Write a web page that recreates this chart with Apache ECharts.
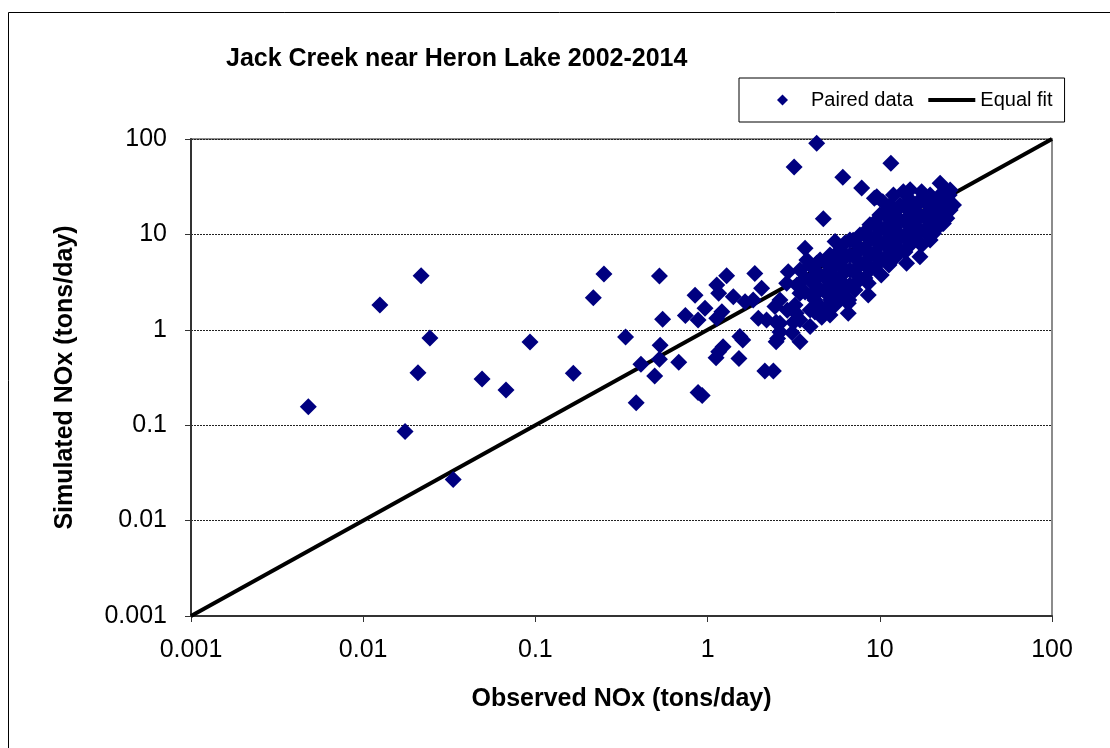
<!DOCTYPE html>
<html>
<head>
<meta charset="utf-8">
<script src="https://cdn.jsdelivr.net/npm/echarts@6/dist/echarts.min.js"></script>
<style>html,body{margin:0;padding:0;background:#fff}#c{width:1110px;height:748px}</style>
</head>
<body>
<div id="c"></div>
<script>
// Observed NOx (tons/day)
const observed = [
  0.0048,0.0125,0.0217,0.0244,0.0208,0.0175,0.0333,0.049,0.0675,0.093,
  0.166,0.217,0.25,0.334,0.385,0.41,0.493,0.525,0.53,0.525,
  0.548,0.68,0.743,0.846,0.88,0.88,0.93,0.966,1.13,1.16,
  1.29,1.21,1.13,1.41,1.12,1.23,1.16,1.54,1.6,1.52,
  1.65,1.88,1.97,2.15,2.41,
  2.06,1.84,2.2,2.63,2.55,2.5,3.44,2.94,2.88,2.63,
  2.46,3.68,3.77,3.44,3.27,3.44,3.94,4.3,5.5,6.0,
  7.0,6.56,6.56,8.57,8.57,14.3,17.1,20.5,23.4,2.63,
  2.5,3.15,2.9,3.1,
  4.3,3.18,11.6,6.1,7.85,9.6,10.4,4.7,12,13.7,
  17.5,22.4,24.5,26.8,23,9.3,15,25.3,24.5,
  3.44,3.3,3.22,3.94,3.94,4.0,3.94,4.5,4.5,4.5,
  4.4,4.6,5.14,5.14,5.1,5.2,5.14,5.87,5.87,5.87,
  5.9,6.71,6.71,6.7,6.71,6.6,7.67,7.67,7.67,7.6,
  8.76,8.76,8.8,8.76,10,10,10,10,10.2,11.5,
  11.5,11.5,11.5,11.3,13.1,13.1,13.1,13.1,15,15,
  15,15,17.1,17.1,17.1,17.5,19.6,19.6,19.6,19.6,
  22.4,22.4,25.6,25.6,
  3.68,3.68,4.2,4.2,4.2,4.2,4.81,4.81,4.81,4.81,
  5.5,5.5,5.5,5.5,6.28,6.28,6.28,6.28,7.17,7.17,
  7.17,7.17,8.2,8.2,8.2,8.2,9.37,9.37,9.37,9.37,
  10.7,10.7,10.7,10.7,12.2,12.2,12.2,12.2,14,14,
  14,14,16,16,16,18.3,18.3,18.3,20.9,20.9,
  20.9,23.9,23.9
];
// Simulated NOx (tons/day)
const simulated = [
  0.156,1.82,3.69,0.82,0.355,0.086,0.027,0.305,0.234,0.745,
  0.35,2.17,3.85,0.84,0.172,0.435,0.328,3.66,0.69,0.49,
  1.29,0.456,1.41,2.3,1.27,0.22,0.205,1.68,2.95,2.42,
  3.69,1.55,1.32,2.22,0.51,0.665,0.59,0.85,0.78,0.5,
  1.97,3.9,1.32,0.37,0.37,
  2.72,2.05,1.27,1.17,0.81,0.75,0.75,4.06,3.07,2.05,
  1.75,7.15,5.4,2.42,1.49,1.27,1.08,4.98,8.4,6.08,
  8.7,1.9,1.49,2.32,3.07,4.98,5.84,10.3,13,0.95,
  1.2,1.2,1.6,0.93,
  90,51,55.6,39.7,30.6,24.8,22,14.6,25.9,28,
  28,34.4,28,20.3,13,23.9,29.3,25.9,14.8,
  4.24,2.95,1.82,4.78,3.33,2.32,1.61,5.39,3.75,2.61,
  1.82,1.35,6.08,4.24,2.95,2.05,1.43,6.86,4.78,3.33,
  2.32,8.73,6.08,4.24,2.95,2.05,9.86,6.86,4.78,3.33,
  12.6,8.73,6.08,4.24,16,11.1,7.74,5.39,3.75,20.3,
  14.2,9.86,6.86,4.78,20.3,14.2,9.86,6.86,23,16,
  11.1,7.74,23,16,11.1,7.74,25.9,18,12.6,8.73,
  25.9,18,29.2,18,
  3.49,2.49,4.24,2.95,2.05,1.54,5.14,3.49,2.49,1.69,
  5.14,3.57,2.61,1.82,8.13,5.66,4.04,2.74,8.13,5.66,
  3.94,2.61,10.6,7.2,5.14,3.49,13.5,9.4,6.54,4.55,
  17.2,11.7,8.32,5.66,17.2,11.7,8.13,5.66,19.4,13.5,
  9.17,6.54,19.4,13.5,9.17,21.9,14.9,10.6,21.9,14.9,
  11.1,23,16
];
// Equal fit (1:1) line end points
const equalFitX = [0.001, 100];
const equalFitY = [0.001, 100];
// Tick labels (decades)
const tickLabels = ['0.001', '0.01', '0.1', '1', '10', '100'];

const paired = observed.map((v, i) => [v, simulated[i]]);
const fitLine = equalFitX.map((v, i) => [v, equalFitY[i]]);
const FONT = '"Liberation Sans", Arial, sans-serif';
const fmt = v => tickLabels[Math.round(Math.log10(v)) + 3];

const chart = echarts.init(document.getElementById('c'), null, {renderer: 'canvas'});
chart.setOption({
  animation: false,
  backgroundColor: '#fff',
  title: {
    text: 'Jack Creek near Heron Lake 2002-2014',
    left: 221, top: 42,
    textStyle: {fontFamily: FONT, fontSize: 25, fontWeight: 'bold', color: '#000'}
  },
  legend: {
    left: 739, top: 78,
    padding: [12, 12, 12, 38],
    itemGap: 15,
    itemWidth: 47, itemHeight: 11,
    borderColor: '#000', borderWidth: 1,
    textStyle: {fontFamily: FONT, fontSize: 20, color: '#000'},
    data: [
      {name: 'Paired data', icon: 'path://M5,0L10,5L5,10L0,5Z'},
      {name: 'Equal fit', icon: 'path://M0,0H47V4H0Z'}
    ]
  },
  graphic: [{
    type: 'rect', silent: true, z: -1,
    shape: {x: 8.5, y: 12.5, width: 1300, height: 900},
    style: {fill: 'none', stroke: '#000', lineWidth: 1}
  }],
  grid: {
    left: 191, right: 58, top: 139, bottom: 132,
    show: true, borderColor: '#8c8c8c', borderWidth: 2, backgroundColor: 'transparent'
  },
  xAxis: {
    type: 'log', logBase: 10, min: 0.001, max: 100,
    name: 'Observed NOx (tons/day)', nameLocation: 'middle', nameGap: 71,
    nameTextStyle: {fontFamily: FONT, fontSize: 25, fontWeight: 'bold', color: '#000'},
    axisLine: {show: true, onZero: false, lineStyle: {color: '#333', width: 2}},
    axisTick: {show: true, inside: false, length: 6, lineStyle: {color: '#333', width: 1}},
    axisLabel: {margin: 22, fontFamily: FONT, fontSize: 25, color: '#000', formatter: fmt},
    splitLine: {show: false},
    minorTick: {show: false}
  },
  yAxis: {
    type: 'log', logBase: 10, min: 0.001, max: 100,
    name: 'Simulated NOx (tons/day)', nameLocation: 'middle', nameGap: 113,
    nameTextStyle: {fontFamily: FONT, fontSize: 25, fontWeight: 'bold', color: '#000'},
    axisLine: {show: true, onZero: false, lineStyle: {color: '#333', width: 2}},
    axisTick: {show: true, inside: false, length: 6, lineStyle: {color: '#333', width: 1}},
    axisLabel: {margin: 24, fontFamily: FONT, fontSize: 25, color: '#000', formatter: fmt},
    splitLine: {show: true, lineStyle: {color: '#222', width: 1, type: [2, 1]}}
  },
  series: [
    {
      name: 'Equal fit', type: 'line', data: fitLine,
      symbol: 'none', z: 2,
      lineStyle: {color: '#000', width: 4},
      itemStyle: {color: '#000'}
    },
    {
      name: 'Paired data', type: 'scatter', data: paired,
      symbol: 'diamond', symbolSize: 17, z: 3,
      itemStyle: {color: '#000080', opacity: 1}
    }
  ]
});
</script>
</body>
</html>
